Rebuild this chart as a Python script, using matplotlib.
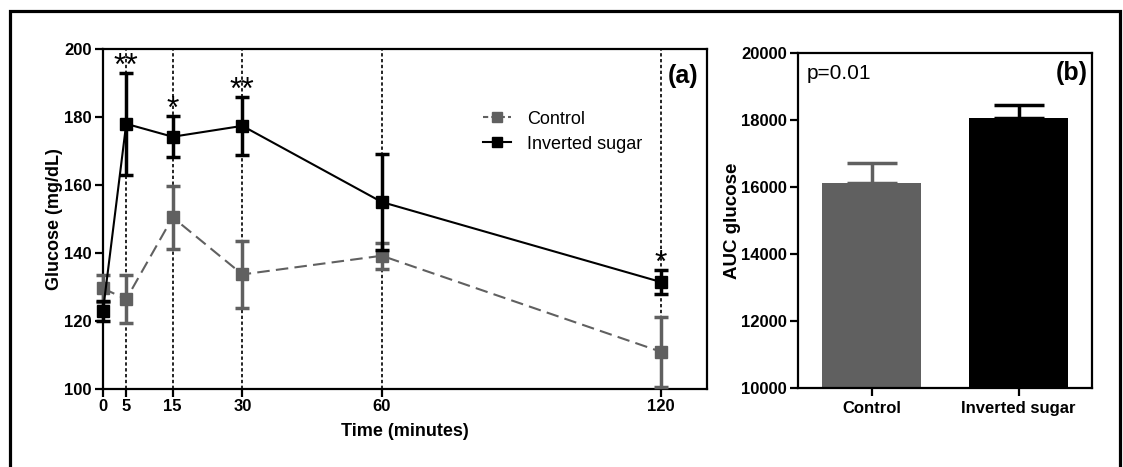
import numpy as np
import matplotlib.pyplot as plt
from matplotlib.lines import Line2D

plt.rcParams['font.family'] = ['Liberation Sans', 'DejaVu Sans']

# glucose tolerance curve
time = [0, 5, 15, 30, 60, 120]
control = [129.6, 126.4, 150.5, 133.7, 139.2, 111.0]
control_err = [4.0, 7.0, 9.3, 9.8, 3.8, 10.3]
inverted = [123.0, 178.0, 174.2, 177.4, 155.0, 131.5]
inverted_err = [3.0, 15.0, 6.0, 8.5, 14.0, 3.6]
stars = {5: '**', 15: '*', 30: '**', 120: '*'}

# area under curve
groups = ['Control', 'Inverted sugar']
auc = [16100, 18050]
auc_err = [600, 400]

gray = '#606060'

fig = plt.figure(figsize=(11.23, 4.67), dpi=100)

# open frame round the panels (left, top, right)
fx0, fx1, fy1 = 9.5 / 1123, 1119.5 / 1123, 1 - 10.5 / 467
fig.add_artist(Line2D([fx0, fx0, fx1, fx1], [0, fy1, fy1, 0],
                      transform=fig.transFigure, color='black', linewidth=2.3,
                      solid_joinstyle='miter'))

ax1 = fig.add_axes([0.0917, 0.167, 0.5379, 0.728])
ax2 = fig.add_axes([0.7106, 0.1692, 0.2618, 0.718])

for t in time[1:]:
    ax1.axvline(t, color='black', linestyle=(0, (2, 1.5)), linewidth=1.2, zorder=1)

ax1.errorbar(time, control, yerr=control_err, color=gray, linestyle=(0, (6, 3)),
             linewidth=1.5, marker='s', markersize=8, elinewidth=2.5,
             capsize=5, capthick=2.5, clip_on=False, zorder=3)
ax1.errorbar(time, inverted, yerr=inverted_err, color='black', linestyle='-',
             linewidth=1.5, marker='s', markersize=8, elinewidth=2.5,
             capsize=5, capthick=2.5, clip_on=False, zorder=4)

for t, s in stars.items():
    i = time.index(t)
    ax1.text(t, inverted[i] + inverted_err[i] - 0.6, s, ha='center', va='baseline',
             fontsize=23)

ax1.set_xlim(0, 130)
ax1.set_ylim(100, 200)
ax1.set_xticks(time)
ax1.set_yticks(range(100, 201, 20))
ax1.set_xlabel('Time (minutes)', fontsize=13, fontweight='bold', labelpad=6)
ax1.set_ylabel('Glucose (mg/dL)', fontsize=13, fontweight='bold', labelpad=1)
ax1.text(0.985, 0.955, '(a)', transform=ax1.transAxes, ha='right', va='top',
         fontsize=18, fontweight='bold')

handles = [Line2D([], [], color=gray, linestyle=(0, (2.5, 1.5)), linewidth=1.5,
                  marker='s', markersize=7),
           Line2D([], [], color='black', linestyle='-', linewidth=1.5,
                  marker='s', markersize=7)]
ax1.legend(handles, ['Control', 'Inverted sugar'], loc='upper left',
           bbox_to_anchor=(0.603, 0.867), frameon=False, fontsize=13,
           handlelength=1.5, handletextpad=0.9, labelspacing=0.45)

ax2.bar([0, 1], auc, width=0.67, color=[gray, 'black'], zorder=2)
for i in range(2):
    ax2.errorbar(i, auc[i], yerr=[[0], [auc_err[i]]], color=[gray, 'black'][i],
                 elinewidth=2.5, capsize=18, capthick=2.5, zorder=1)
ax2.set_xlim(-0.5, 1.5)
ax2.set_ylim(10000, 20000)
ax2.set_yticks(range(10000, 20001, 2000))
ax2.set_xticks([0, 1])
ax2.set_xticklabels(groups)
ax2.set_ylabel('AUC glucose', fontsize=13.5, fontweight='bold', labelpad=0)
ax2.text(0.03, 0.965, 'p=0.01', transform=ax2.transAxes, ha='left', va='top',
         fontsize=15)
ax2.text(0.985, 0.975, '(b)', transform=ax2.transAxes, ha='right', va='top',
         fontsize=18, fontweight='bold')

for ax in (ax1, ax2):
    for sp in ax.spines.values():
        sp.set_linewidth(1.6)
    ax.tick_params(width=1.6, length=6, labelsize=12)
    ax.tick_params(axis='y', pad=2)
    for lab in ax.get_xticklabels() + ax.get_yticklabels():
        lab.set_fontweight('bold')
ax1.tick_params(axis='x', pad=1.5)

fig.savefig('out.png', dpi=100)
